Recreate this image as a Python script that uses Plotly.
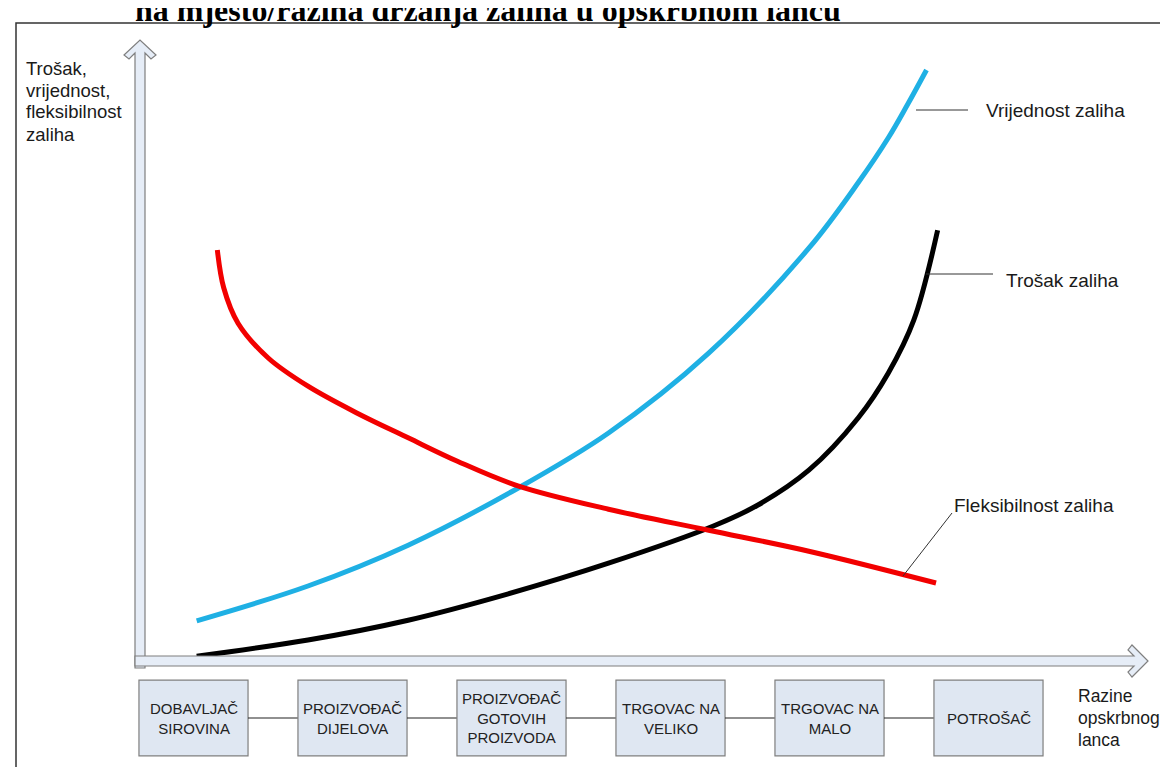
import plotly.graph_objects as go

W, H = 1168, 767

# supply-chain levels (x axis: 0..5 = box positions)
levels = ["DOBAVLJAČ<br>SIROVINA", "PROIZVOĐAČ<br>DIJELOVA", "PROIZVOĐAČ<br>GOTOVIH<br>PROIZVODA",
          "TRGOVAC NA<br>VELIKO", "TRGOVAC NA<br>MALO", "POTROŠAČ"]

# curves (x in level units, y in value units 0..100)
value_x = [0.02, 0.72, 1.35, 2.04, 2.61, 3.24, 3.87, 4.18, 4.37, 4.49, 4.61]
value_y = [6.7, 12.5, 19.3, 28.8, 38.0, 51.3, 68.8, 79.7, 87.2, 92.7, 98.5]

cost_x = [0.02, 0.72, 1.35, 1.98, 2.61, 3.27, 3.55, 3.87, 4.18, 4.37, 4.53, 4.68]
cost_y = [0.8, 3.5, 6.8, 11.2, 16.3, 22.5, 26.0, 31.8, 40.5, 48.0, 56.8, 71.8]

flex_x = [0.15, 0.19, 0.28, 0.47, 0.72, 1.03, 1.35, 1.66, 2.04, 2.61, 3.24, 3.87, 4.67]
flex_y = [68.5, 62.2, 56.3, 50.5, 45.8, 41.3, 37.2, 33.3, 29.2, 25.3, 21.8, 18.3, 13.0]

title = "na mjesto/razina držanja zaliha u opskrbnom lancu"
y_label = ["Trošak,", "vrijednost,", "fleksibilnost", "zaliha"]
x_label = ["Razine", "opskrbnog", "lanca"]


def X(px):
    return px / W


def Y(py):
    return 1 - py / H


fig = go.Figure()
for xs, ys, col in [(value_x, value_y, "#1fb0e4"), (cost_x, cost_y, "#000000"),
                    (flex_x, flex_y, "#f20000")]:
    fig.add_trace(go.Scatter(x=xs, y=ys, mode="lines",
                             line=dict(color=col, width=5, shape="spline", smoothing=1.0),
                             hoverinfo="skip"))

shapes = []
# outer frame
shapes.append(dict(type="path", xref="paper", yref="paper", line=dict(color="#333333", width=1.5),
                   path=f"M {X(8)},{Y(767)} L {X(8)},{Y(15)} L {X(1168)},{Y(15)}"))
# vertical axis arrow
pts = [(127, 660), (127, 45), (121, 51), (116, 47), (132, 32), (148, 47), (143, 51), (137, 45), (137, 660)]
shapes.append(dict(type="path", xref="paper", yref="paper", fillcolor="#e6edf7",
                   line=dict(color="#7f7f7f", width=1.2),
                   path="M " + " L ".join(f"{X(a)},{Y(b)}" for a, b in pts) + " Z"))
# horizontal axis arrow
pts = [(127, 648), (1126, 648), (1120, 642), (1124, 637), (1140, 653), (1124, 669), (1120, 664),
       (1126, 658), (127, 658)]
shapes.append(dict(type="path", xref="paper", yref="paper", fillcolor="#e6edf7",
                   line=dict(color="#7f7f7f", width=1.2),
                   path="M " + " L ".join(f"{X(a)},{Y(b)}" for a, b in pts) + " Z"))

# level boxes and connectors
half = 0.343
for i in range(len(levels)):
    shapes.append(dict(type="rect", xref="x", yref="y", x0=i - half, x1=i + half, y0=-3.2, y1=-15.8,
                       fillcolor="#dfe7f2", line=dict(color="#7f7f7f", width=1.2)))
    if i < len(levels) - 1:
        shapes.append(dict(type="line", xref="x", yref="y", x0=i + half, x1=i + 1 - half, y0=-9.5, y1=-9.5,
                           line=dict(color="#222222", width=1.2)))

# leader lines
for (a, b, c, d) in [(908, 102, 960, 102), (918, 266, 985, 266), (895, 568, 944, 505)]:
    shapes.append(dict(type="line", xref="paper", yref="paper", x0=X(a), y0=Y(b), x1=X(c), y1=Y(d),
                       line=dict(color="#333333", width=1)))

annotations = []
for i, lab in enumerate(levels):
    annotations.append(dict(x=i, y=-9.5, xref="x", yref="y", text=lab, showarrow=False,
                            font=dict(family="Liberation Sans, Arial", size=15, color="#222222")))

txt = dict(family="Liberation Sans, Arial", size=19, color="#1a1a1a")
for text, px, py in [("Vrijednost zaliha", 976, 102), ("Trošak zaliha", 996, 273),
                     ("Fleksibilnost zaliha", 944, 497)]:
    annotations.append(dict(x=X(px), y=Y(py), xref="paper", yref="paper", text=text, showarrow=False,
                            xanchor="left", yanchor="middle", font=txt))
txt2 = dict(family="Liberation Sans, Arial", size=18.5, color="#1a1a1a")
for k, line in enumerate(y_label):
    annotations.append(dict(x=X(16), y=Y(60 + 22 * k), xref="paper", yref="paper", text=line,
                            showarrow=False, xanchor="left", yanchor="middle", font=txt2))
txt3 = dict(family="Liberation Sans, Arial", size=17.5, color="#1a1a1a")
for k, line in enumerate(x_label):
    annotations.append(dict(x=X(1068), y=Y(688 + 22 * k), xref="paper", yref="paper", text=line,
                            showarrow=False, xanchor="left", yanchor="middle", font=txt3))
annotations.append(dict(x=X(480), y=Y(2), xref="paper", yref="paper", text=f"<b>{title}</b>",
                        showarrow=False, xanchor="center", yanchor="middle",
                        font=dict(family="Liberation Serif, Times New Roman", size=32, color="#000000")))

fig.update_layout(
    width=W, height=H, margin=dict(l=0, r=0, t=0, b=0),
    paper_bgcolor="white", plot_bgcolor="white", showlegend=False,
    shapes=shapes, annotations=annotations,
)
fig.update_xaxes(visible=False, range=[-185.5 / 159, (W - 185.5) / 159])
fig.update_yaxes(visible=False, range=[(653 - H) / 6, 653 / 6])

fig.write_html("out.html")
